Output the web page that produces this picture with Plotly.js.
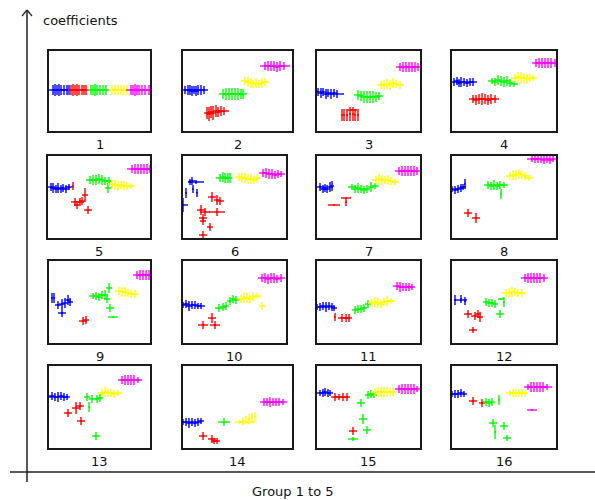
<!DOCTYPE html>
<html>
<head>
<meta charset="utf-8">
<script src="https://cdn.plot.ly/plotly-3.0.1.min.js"></script>
<style>html,body{margin:0;padding:0;background:#fff;}#chart{width:595px;height:500px;}</style>
</head>
<body>
<div id="chart"></div>
<script>
// Each panel: 5 groups (blue, red, green, yellow, magenta); each point [x, y, halfWidth, halfHeight]
const groupNames = ['Group 1', 'Group 2', 'Group 3', 'Group 4', 'Group 5'];
const groupColors = ['#0000ff', '#ff0000', '#00ff00', '#ffff00', '#ff00ff'];
const panelLabels = ['1','2','3','4','5','6','7','8','9','10','11','12','13','14','15','16'];

const panel01 = [
  [[4,39,7,5],[6,39,3,6],[8,39,3,5],[10,39,3,6],[12,39,3,5],[15,39,3,5],[18,39,3,5],[20,39,3,5]],
  [[22,39,3,5],[24,39,3,6],[26,39,3,5],[28,39,3,6],[30,39,3,5],[33,39,3,5],[35,39,3,5],[37,39,3,5]],
  [[42,39,3,5],[44,39,3,5],[46,39,3,6],[48,39,3,5],[51,39,3,5],[54,39,3,5],[57,39,3,5]],
  [[63,39,3,5],[66,39,3,5],[69,39,3,5],[72,39,3,5],[75,39,3,5],[78,39,3,5]],
  [[82,39,5,5],[84,39,3,5],[86,39,3,6],[88,39,3,5],[90,39,3,5],[93,39,3,5],[96,39,3,5],[100,39,6,5]]
];
const panel02 = [
  [[2,39,6,4],[5,39,3,5],[7,39,3,5],[9,40,3,5],[11,39,3,4],[13,40,3,5],[15,39,3,5],[18,39,3,5],[21,39,4,4]],
  [[24,62,3,6],[26,63,3,7],[28,61,3,6],[30,62,3,7],[33,60,3,6],[35,61,3,5],[38,60,3,5],[41,60,5,4]],
  [[40,43,4,5],[43,43,3,6],[46,43,3,6],[49,43,3,6],[52,43,3,6],[55,43,3,6],[58,43,3,5],[60,43,4,5]],
  [[62,30,4,4],[65,31,3,5],[68,32,3,5],[70,33,3,4],[73,32,3,5],[76,33,3,4],[79,32,3,5],[82,31,4,4]],
  [[82,15,5,4],[85,15,3,5],[88,15,3,5],[91,15,3,5],[94,16,3,5],[97,15,3,5],[101,15,6,4]]
];
const panel03 = [
  [[1,41,5,4],[4,42,3,5],[6,41,3,4],[9,43,3,5],[11,42,3,4],[14,43,3,5],[17,42,3,4],[20,43,7,4]],
  [[25,64,0,6],[27,64,0,6],[30,64,0,6],[33,63,0,7],[36,63,0,7],[38,64,0,6],[41,64,0,6],[35,59,5,0]],
  [[41,44,4,5],[44,45,3,5],[47,46,3,6],[50,46,3,6],[53,46,3,6],[56,46,3,6],[59,46,3,5],[62,45,4,4]],
  [[64,34,4,4],[67,34,3,5],[70,33,3,5],[73,34,3,5],[76,32,3,5],[79,33,3,4],[83,34,4,4]],
  [[83,16,4,4],[86,16,3,5],[89,16,3,5],[92,16,3,5],[95,16,3,5],[98,16,3,5],[101,16,6,4]]
];
const panel04 = [
  [[2,31,4,4],[5,30,3,4],[7,32,3,4],[9,31,3,5],[12,31,3,4],[15,32,3,4],[18,31,3,4],[21,31,4,4]],
  [[21,48,4,4],[24,49,3,5],[27,48,3,5],[30,48,3,6],[33,48,3,5],[36,49,3,5],[39,48,3,5],[43,48,4,4]],
  [[40,30,4,3],[43,31,3,4],[46,29,3,5],[49,30,3,5],[52,31,3,5],[55,30,3,5],[58,32,3,4],[62,33,4,3]],
  [[63,27,4,4],[66,26,3,5],[69,27,3,6],[72,27,3,5],[75,28,3,5],[78,27,3,4],[81,27,4,3]],
  [[84,12,4,4],[87,12,3,5],[90,12,3,5],[93,12,3,5],[96,12,3,5],[99,12,3,5],[103,12,5,4]]
];
const panel05 = [
  [[3,31,4,4],[5,32,3,5],[8,33,3,4],[10,32,3,5],[13,33,3,4],[15,32,3,4],[18,33,3,4],[21,31,4,3]],
  [[25,30,0,4],[27,46,4,4],[29,49,3,4],[32,46,4,4],[34,45,3,4],[37,39,3,7],[40,54,4,4]],
  [[42,24,4,4],[45,24,3,5],[48,24,3,5],[51,23,3,5],[54,24,3,5],[57,25,3,4],[60,32,3,5],[61,25,3,4]],
  [[64,28,4,4],[67,29,3,5],[70,30,3,5],[73,29,3,4],[76,30,3,5],[79,30,3,4],[83,30,4,3]],
  [[84,13,5,4],[87,13,3,5],[90,13,3,5],[93,13,3,5],[96,13,3,5],[99,13,3,5],[102,13,5,4]]
];
const panel06 = [
  [[13,26,8,2],[9,25,3,4],[7,26,2,3],[3,37,0,5],[10,33,0,4],[14,37,0,4],[0,49,5,7]],
  [[29,41,4,5],[34,44,3,5],[37,45,4,4],[18,54,4,5],[22,56,5,4],[34,56,8,4],[20,62,4,4],[20,65,3,4],[27,71,3,4],[20,79,4,4]],
  [[37,22,4,4],[40,21,3,5],[42,22,3,5],[45,22,2,5],[47,22,2,5]],
  [[56,21,4,4],[59,22,3,5],[62,22,3,5],[65,23,3,5],[68,23,3,5],[71,24,3,4],[74,22,3,4]],
  [[80,17,4,4],[83,17,3,5],[86,18,3,5],[89,18,3,5],[92,19,3,4],[95,18,3,4],[98,18,4,3]]
];
const panel07 = [
  [[3,31,4,4],[6,33,3,4],[8,32,2,4],[10,33,3,4],[13,31,3,5],[15,30,2,5]],
  [[17,49,6,0],[29,42,5,0],[29,46,0,4]],
  [[35,31,4,3],[38,33,3,4],[41,32,3,5],[44,33,3,4],[47,34,3,4],[50,33,3,4],[54,31,3,5],[58,30,4,3]],
  [[59,24,4,4],[62,23,3,5],[65,24,3,5],[68,24,3,4],[71,24,3,5],[74,25,3,4],[78,26,4,3]],
  [[82,15,4,4],[85,15,3,5],[88,15,3,5],[91,15,3,5],[94,15,3,5],[97,15,3,5],[100,15,5,4]]
];
const panel08 = [
  [[0,33,5,3],[3,34,3,4],[6,33,3,4],[9,32,3,4],[11,31,3,3],[13,28,0,5]],
  [[16,57,4,4],[24,62,4,5]],
  [[36,29,4,4],[39,30,3,4],[42,29,3,5],[45,30,3,4],[48,29,3,4],[52,29,4,3],[49,38,0,5]],
  [[58,20,4,4],[61,19,3,5],[64,19,3,5],[67,18,3,5],[70,19,3,4],[73,20,3,4],[77,22,4,3]],
  [[80,3,5,3],[83,3,3,4],[86,3,3,4],[89,3,3,4],[92,4,3,4],[95,3,3,4],[98,4,3,4],[101,3,4,3]]
];
const panel09 = [
  [[3,37,0,5],[5,37,0,5],[9,44,3,4],[13,43,3,5],[16,42,3,5],[19,39,3,5],[21,41,3,4],[13,52,4,4]],
  [[34,60,4,4],[37,59,3,4]],
  [[44,35,4,3],[47,35,3,4],[50,36,3,4],[53,34,3,4],[56,34,3,5],[60,27,3,5],[58,38,3,4],[61,47,4,4],[64,56,5,0]],
  [[70,30,4,4],[73,31,3,5],[76,31,3,5],[79,32,3,4],[82,33,3,4],[86,33,4,4]],
  [[88,14,4,4],[91,14,3,5],[94,14,3,5],[97,14,3,5],[100,14,3,5],[103,14,4,3]]
];
const panel10 = [
  [[0,44,5,3],[3,43,3,4],[6,45,3,5],[9,44,3,4],[12,44,3,4],[15,45,3,3],[18,45,4,3]],
  [[20,64,5,4],[29,57,4,5],[32,64,5,4]],
  [[36,47,4,4],[40,46,3,4],[43,45,3,4],[47,40,3,4],[50,38,3,4],[53,39,3,4]],
  [[58,38,4,4],[61,37,3,5],[64,37,3,5],[67,38,3,4],[70,36,3,4],[74,35,4,3],[79,45,3,4]],
  [[79,17,4,4],[82,17,3,5],[85,18,3,5],[88,17,3,5],[91,17,3,5],[94,18,3,4],[98,17,4,4]]
];
const panel11 = [
  [[0,46,4,3],[3,46,3,4],[6,45,3,4],[9,46,3,5],[12,45,3,4],[15,46,3,4],[17,47,3,3]],
  [[18,56,0,4],[25,57,4,4],[29,57,3,4],[32,57,3,4]],
  [[38,49,3,4],[41,48,3,4],[44,48,3,4],[47,47,3,4],[51,43,3,4]],
  [[55,42,4,4],[58,41,3,5],[61,42,3,5],[64,43,3,4],[67,41,3,4],[70,40,3,5],[74,40,4,3]],
  [[80,25,4,4],[83,26,3,5],[86,26,3,4],[89,26,3,4],[92,26,3,4],[95,26,3,3]]
];
const panel12 = [
  [[3,39,0,5],[9,39,6,0],[9,38,0,4],[13,40,0,4]],
  [[16,53,4,4],[23,55,4,4],[26,53,3,4],[28,56,3,5],[21,69,4,3]],
  [[34,41,3,4],[37,42,3,4],[40,42,3,4],[43,43,3,4],[49,38,3,0],[52,41,0,5],[48,53,4,4]],
  [[54,32,4,4],[57,32,3,5],[60,31,3,5],[63,31,3,4],[66,32,3,4],[70,32,4,4]],
  [[73,17,4,4],[76,17,3,5],[79,17,3,5],[82,17,3,5],[85,17,3,5],[88,17,3,5],[92,17,4,4]]
];
const panel13 = [
  [[-1,31,5,3],[3,30,3,4],[6,31,3,4],[9,31,3,5],[12,30,3,4],[15,31,3,4],[18,31,3,3]],
  [[19,47,4,4],[27,42,4,6],[31,40,4,4],[32,55,4,4]],
  [[38,31,3,4],[43,33,3,4],[48,33,3,4],[51,32,3,4],[40,41,0,5],[47,70,4,4]],
  [[53,27,4,4],[56,26,3,5],[59,27,3,4],[62,27,3,4],[65,28,3,4],[69,27,4,3]],
  [[73,14,4,4],[76,14,3,5],[79,14,3,5],[82,14,3,5],[85,14,3,5],[89,14,4,3]]
];
const panel14 = [
  [[0,56,5,3],[3,56,3,4],[6,57,3,5],[9,56,3,4],[12,57,3,4],[15,56,3,4],[18,55,3,3]],
  [[20,70,4,4],[29,73,4,4],[31,75,3,3],[34,75,3,3]],
  [[41,56,6,4]],
  [[56,56,4,2],[60,55,0,4],[63,54,0,4],[66,53,0,5],[69,52,0,5],[72,51,0,5],[64,56,8,0]],
  [[81,36,4,4],[84,36,3,4],[87,36,3,5],[90,36,3,4],[93,36,3,4],[96,36,3,4],[100,36,4,3]]
];
const panel15 = [
  [[3,27,4,3],[6,27,3,4],[8,26,3,4],[11,27,3,4],[13,27,3,3]],
  [[18,31,4,4],[22,31,3,3],[26,31,3,4],[30,31,3,4],[36,65,4,4]],
  [[44,37,4,4],[46,53,4,5],[50,64,4,4],[36,73,5,2],[51,29,3,4],[54,28,3,4],[57,29,3,3]],
  [[58,26,4,4],[61,26,3,5],[64,26,3,5],[67,26,3,5],[70,26,3,5],[73,26,3,4],[76,26,3,4]],
  [[82,23,4,4],[85,23,3,5],[88,23,3,5],[91,23,3,5],[94,23,3,5],[97,23,3,5],[100,23,4,3]]
];
const panel16 = [
  [[0,28,5,3],[3,28,3,4],[6,28,3,4],[9,27,3,4],[12,28,3,3]],
  [[21,35,4,4],[30,37,3,4]],
  [[34,36,3,4],[37,37,3,4],[40,36,3,4],[47,34,0,5],[41,57,4,4],[52,60,4,4],[43,66,0,7],[55,72,4,3]],
  [[58,27,4,3],[61,27,3,4],[64,27,3,4],[67,27,3,4],[70,27,3,4],[73,27,3,3]],
  [[76,21,4,3],[79,21,3,5],[82,21,3,5],[85,21,3,5],[88,21,3,5],[91,21,3,5],[95,21,5,3],[80,44,5,0]]
];

const panels = [panel01,panel02,panel03,panel04,panel05,panel06,panel07,panel08,
                panel09,panel10,panel11,panel12,panel13,panel14,panel15,panel16];

// Layout geometry (page pixels): [left, top, right, bottom]
const boxes = [
  [49,51,150,131],[183,51,292,131],[317,51,420,131],[452,51,556,131],
  [48,156,150,238],[183,156,286,238],[317,156,420,238],[452,156,556,238],
  [49,261,150,343],[183,261,286,343],[317,261,420,343],[452,261,556,343],
  [49,366,150,448],[183,366,292,448],[317,366,420,448],[452,366,556,448]
];
const W = 595, H = 500;
const px = v => v / W;
const py = v => 1 - v / H;
const FONT = 'DejaVu Sans, Verdana, sans-serif';

const traces = [];
const layout = {
  width: W, height: H,
  margin: {l: 0, r: 0, t: 0, b: 0},
  paper_bgcolor: '#ffffff', plot_bgcolor: 'rgba(0,0,0,0)',
  showlegend: false,
  font: {family: FONT, color: '#111'},
  annotations: [], shapes: []
};

panels.forEach((groups, i) => {
  const n = i + 1;
  const xid = n === 1 ? 'x' : 'x' + n;
  const yid = n === 1 ? 'y' : 'y' + n;
  const b = boxes[i];
  const axBase = {showgrid: false, zeroline: false, showticklabels: false, ticks: '',
                  showline: true, mirror: true, linecolor: '#1a1a1a', linewidth: 1.6, fixedrange: true};
  layout[n === 1 ? 'xaxis' : 'xaxis' + n] = Object.assign({}, axBase, {
    domain: [px(b[0]), px(b[2])], range: [0, b[2] - b[0]], anchor: yid
  });
  layout[n === 1 ? 'yaxis' : 'yaxis' + n] = Object.assign({}, axBase, {
    domain: [py(b[3]), py(b[1])], range: [b[3] - b[1], 0], anchor: xid
  });
  groups.forEach((pts, g) => {
    traces.push({
      type: 'scatter', mode: 'markers', name: groupNames[g],
      x: pts.map(p => p[0]), y: pts.map(p => p[1]),
      xaxis: xid, yaxis: yid, cliponaxis: false, hoverinfo: 'skip',
      marker: {size: 2, color: groupColors[g]},
      error_x: {type: 'data', symmetric: true, array: pts.map(p => p[2]), width: 0, thickness: 1.4, color: groupColors[g], visible: true},
      error_y: {type: 'data', symmetric: true, array: pts.map(p => p[3]), width: 0, thickness: 1.4, color: groupColors[g], visible: true}
    });
  });
  layout.annotations.push({
    xref: 'paper', yref: 'paper', x: px((b[0] + b[2]) / 2), y: py(b[3] + 13),
    text: panelLabels[i], showarrow: false, xanchor: 'center', yanchor: 'middle',
    font: {size: 13, color: '#111', family: FONT}
  });
});

// outer axes
layout.shapes.push({type: 'line', xref: 'paper', yref: 'paper', x0: px(27), x1: px(27), y0: py(10), y1: py(482), line: {color: '#222', width: 1.5}});
layout.shapes.push({type: 'line', xref: 'paper', yref: 'paper', x0: px(10), x1: 1, y0: py(472), y1: py(472), line: {color: '#222', width: 1.5}});
layout.shapes.push({type: 'line', xref: 'paper', yref: 'paper', x0: px(22), x1: px(27), y0: py(16), y1: py(10), line: {color: '#222', width: 1.2}});
layout.shapes.push({type: 'line', xref: 'paper', yref: 'paper', x0: px(32), x1: px(27), y0: py(16), y1: py(10), line: {color: '#222', width: 1.2}});

layout.annotations.push({
  xref: 'paper', yref: 'paper', x: px(41), y: py(20), text: 'coefficients', showarrow: false,
  xanchor: 'left', yanchor: 'middle', font: {size: 13, color: '#111', family: FONT}
});
layout.annotations.push({
  xref: 'paper', yref: 'paper', x: px(293), y: py(491), text: 'Group 1 to 5', showarrow: false,
  xanchor: 'center', yanchor: 'middle', font: {size: 13, color: '#111', family: FONT}
});

Plotly.newPlot('chart', traces, layout, {staticPlot: true, displayModeBar: false});
</script>
</body>
</html>
